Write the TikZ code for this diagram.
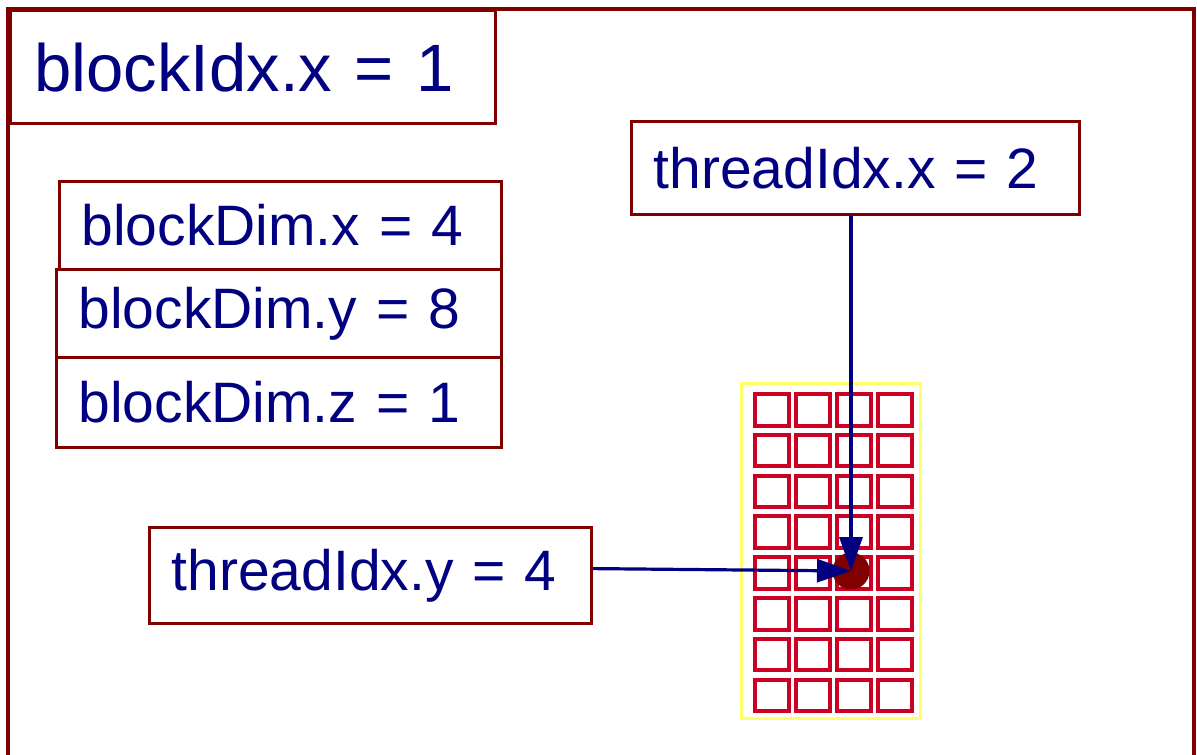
\documentclass[tikz,border=0pt]{standalone}
\usepackage{fontspec}
\setmainfont{Liberation Sans}
\usetikzlibrary{arrows.meta,calc}
\definecolor{frameRed}{HTML}{800000}
\definecolor{cellRed}{HTML}{CC0022}
\definecolor{gridYellow}{HTML}{FFFF66}
\definecolor{labelBlue}{HTML}{000080}
\tikzset{
  labelbox/.style={draw=frameRed, line width=3.2pt, fill=white, rectangle,
    anchor=north west, inner xsep=22pt, inner ysep=0pt, align=left,
    text=labelBlue, font=\fontsize{57}{64}\selectfont},
  cellbox/.style={draw=cellRed, line width=4pt, rectangle, inner sep=0pt,
    minimum width=33.5pt, minimum height=31.5pt, anchor=north west},
  pointer/.style={draw=labelBlue, line width=3.2pt,
    -{Triangle[length=34pt,width=23pt]}}
}
\begin{document}
\begin{tikzpicture}[x=1pt,y=-1pt]
\useasboundingbox (0,0) rectangle (1197,755);
% outer block frame, open at the bottom
\draw[frameRed, line width=3.2pt] (8,757) -- (8,9) -- (1194,9) -- (1194,757);

% labels
\node[labelbox, font=\fontsize{67}{76}\selectfont, inner xsep=24pt,
      minimum width=485pt, minimum height=113pt, text width=437pt] (bix) at (9,9) {blockIdx.x = 1};
\node[labelbox, minimum width=448pt, minimum height=93pt, text width=404pt] (tix) at (630,120) {threadIdx.x = 2};
\node[labelbox, minimum width=442pt, minimum height=88pt, text width=398pt] (bdx) at (58,180) {blockDim.x = 4};
\node[labelbox, minimum width=445pt, minimum height=88pt, text width=401pt] (bdy) at (55,268) {blockDim.y = 8};
\node[labelbox, minimum width=445pt, minimum height=90pt, text width=401pt] (bdz) at (55,356) {blockDim.z = 1};
\node[labelbox, minimum width=442pt, minimum height=96pt, text width=398pt] (tiy) at (148,526) {threadIdx.y = 4};

% thread block: 4 x 8 grid of threads
\draw[gridYellow, line width=3pt] (741,383) rectangle (920,718);
\foreach \c in {0,...,3}{
  \foreach \r in {0,...,7}{
    \node[cellbox] (cell-\c-\r) at ({753+41*\c},{392+40.8*\r}) {};
  }
}

% selected thread
\node[circle, fill=frameRed, minimum size=37pt, inner sep=0pt] (dot) at (851,571) {};

% index pointers
\draw[pointer] (tix.south -| dot.center) -- (dot.center);
\draw[pointer] ([yshift=7pt]tiy.east) -- (dot.center);
\end{tikzpicture}
\end{document}
